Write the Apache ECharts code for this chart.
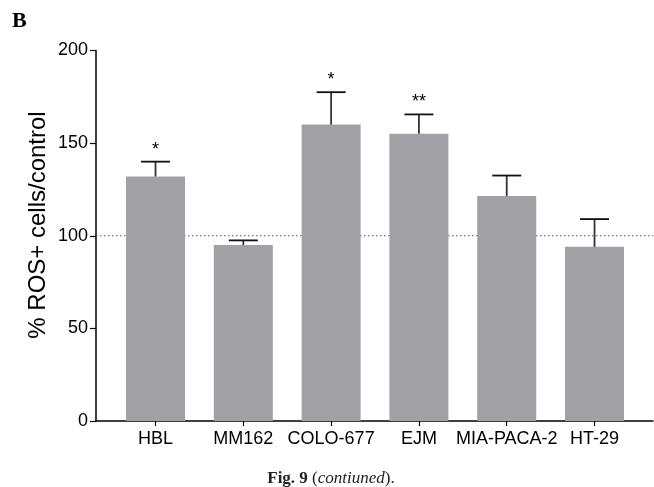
<!DOCTYPE html>
<html>
<head>
<meta charset="utf-8">
<script src="https://cdn.jsdelivr.net/npm/echarts@6/dist/echarts.min.js"></script>
<style>
  html, body { margin: 0; padding: 0; background: #fff; }
  #chart { width: 654px; height: 487px; }
</style>
</head>
<body>
<div id="chart"></div>
<script>
// data
const categories = ['HBL', 'MM162', 'COLO-677', 'EJM', 'MIA-PACA-2', 'HT-29'];
const means = [132, 95, 160, 155, 121.5, 94];
const errors = [8, 2.5, 17.5, 10.5, 11, 15];
const stars = ['*', '', '*', '**', '', ''];
const refLine = 100;
const yTicks = [0, 50, 100, 150, 200];

const catIdx = categories.map((c, i) => i);
const xMin = -0.678, xMax = 5.666;

const chart = echarts.init(document.getElementById('chart'), null, { renderer: 'canvas' });

var option = {
  animation: false,
  backgroundColor: '#fff',
  grid: { left: 96, right: 1, top: 50.5, bottom: 66, containLabel: false },
  xAxis: {
    type: 'value',
    min: xMin,
    max: xMax,
    splitLine: { show: false },
    axisLine: { show: true, onZero: false, lineStyle: { color: '#000', width: 1.5 } },
    axisTick: { show: true, length: 5, customValues: catIdx, lineStyle: { color: '#000', width: 1.2 } },
    axisLabel: {
      customValues: catIdx,
      margin: 9,
      color: '#000',
      fontSize: 18,
      fontFamily: 'Liberation Sans, Arial, sans-serif',
      formatter: function (v) { return categories[Math.round(v)]; }
    }
  },
  yAxis: {
    type: 'value',
    min: yTicks[0],
    max: yTicks[yTicks.length - 1],
    interval: 50,
    splitLine: { show: false },
    axisLine: { show: true, onZero: false, lineStyle: { color: '#000', width: 1.5 } },
    axisTick: { show: true, length: 6, lineStyle: { color: '#000', width: 1.2 } },
    axisLabel: {
      margin: 8,
      color: '#000',
      fontSize: 18,
      fontFamily: 'Liberation Sans, Arial, sans-serif'
    }
  },
  graphic: [
    {
      type: 'text', left: 12, top: 10,
      style: { text: 'B', fontSize: 22, fontWeight: 'bold', fontFamily: 'Liberation Serif, Times New Roman, serif', fill: '#000' }
    },
    {
      type: 'text', x: 38, y: 225, rotation: Math.PI / 2,
      style: {
        text: '% ROS+ cells/control', fontSize: 24, fontFamily: 'Liberation Sans, Arial, sans-serif',
        fill: '#000', align: 'center', verticalAlign: 'middle'
      }
    },
    {
      type: 'text', x: 331, y: 479,
      style: {
        text: '{b|Fig. 9} ({i|contiuned}).',
        align: 'center', verticalAlign: 'middle',
        fontSize: 17, fontFamily: 'Liberation Serif, serif', fill: '#222',
        rich: {
          b: { fontWeight: 'bold', fontSize: 17, fontFamily: 'Liberation Serif, serif', fill: '#222' },
          i: { fontStyle: 'italic', fontSize: 17, fontFamily: 'Liberation Serif, serif', fill: '#222' }
        }
      }
    }
  ],
  series: [
    {
      type: 'line',
      z: 1,
      symbol: 'none',
      silent: true,
      data: [[xMin, refLine], [xMax, refLine]],
      lineStyle: { type: [1.5, 2.5], color: '#555', width: 1 }
    },
    {
      type: 'bar',
      z: 2,
      barWidth: 59,
      itemStyle: { color: '#a1a0a5' },
      data: catIdx.map(i => [i, means[i]])
    },
    {
      type: 'custom',
      z: 3,
      data: catIdx.map(i => [i, means[i], errors[i]]),
      renderItem: function (params, api) {
        var x = api.value(0), m = api.value(1), e = api.value(2);
        var p0 = api.coord([x, m]);
        var p1 = api.coord([x, m + e]);
        var children = [
          { type: 'line', shape: { x1: p0[0], y1: p0[1], x2: p1[0], y2: p1[1] }, style: { stroke: '#333', lineWidth: 1.8 } },
          { type: 'line', shape: { x1: p1[0] - 14.5, y1: p1[1], x2: p1[0] + 14.5, y2: p1[1] }, style: { stroke: '#111', lineWidth: 1.8 } }
        ];
        var s = stars[params.dataIndex];
        if (s) {
          children.push({
            type: 'text',
            style: {
              text: s, x: p1[0], y: p1[1] - 3,
              align: 'center', verticalAlign: 'bottom',
              fontSize: 18, fontFamily: 'Liberation Sans, Arial, sans-serif', fill: '#000'
            }
          });
        }
        return { type: 'group', children: children };
      }
    }
  ]
};

chart.setOption(option);
</script>
</body>
</html>
